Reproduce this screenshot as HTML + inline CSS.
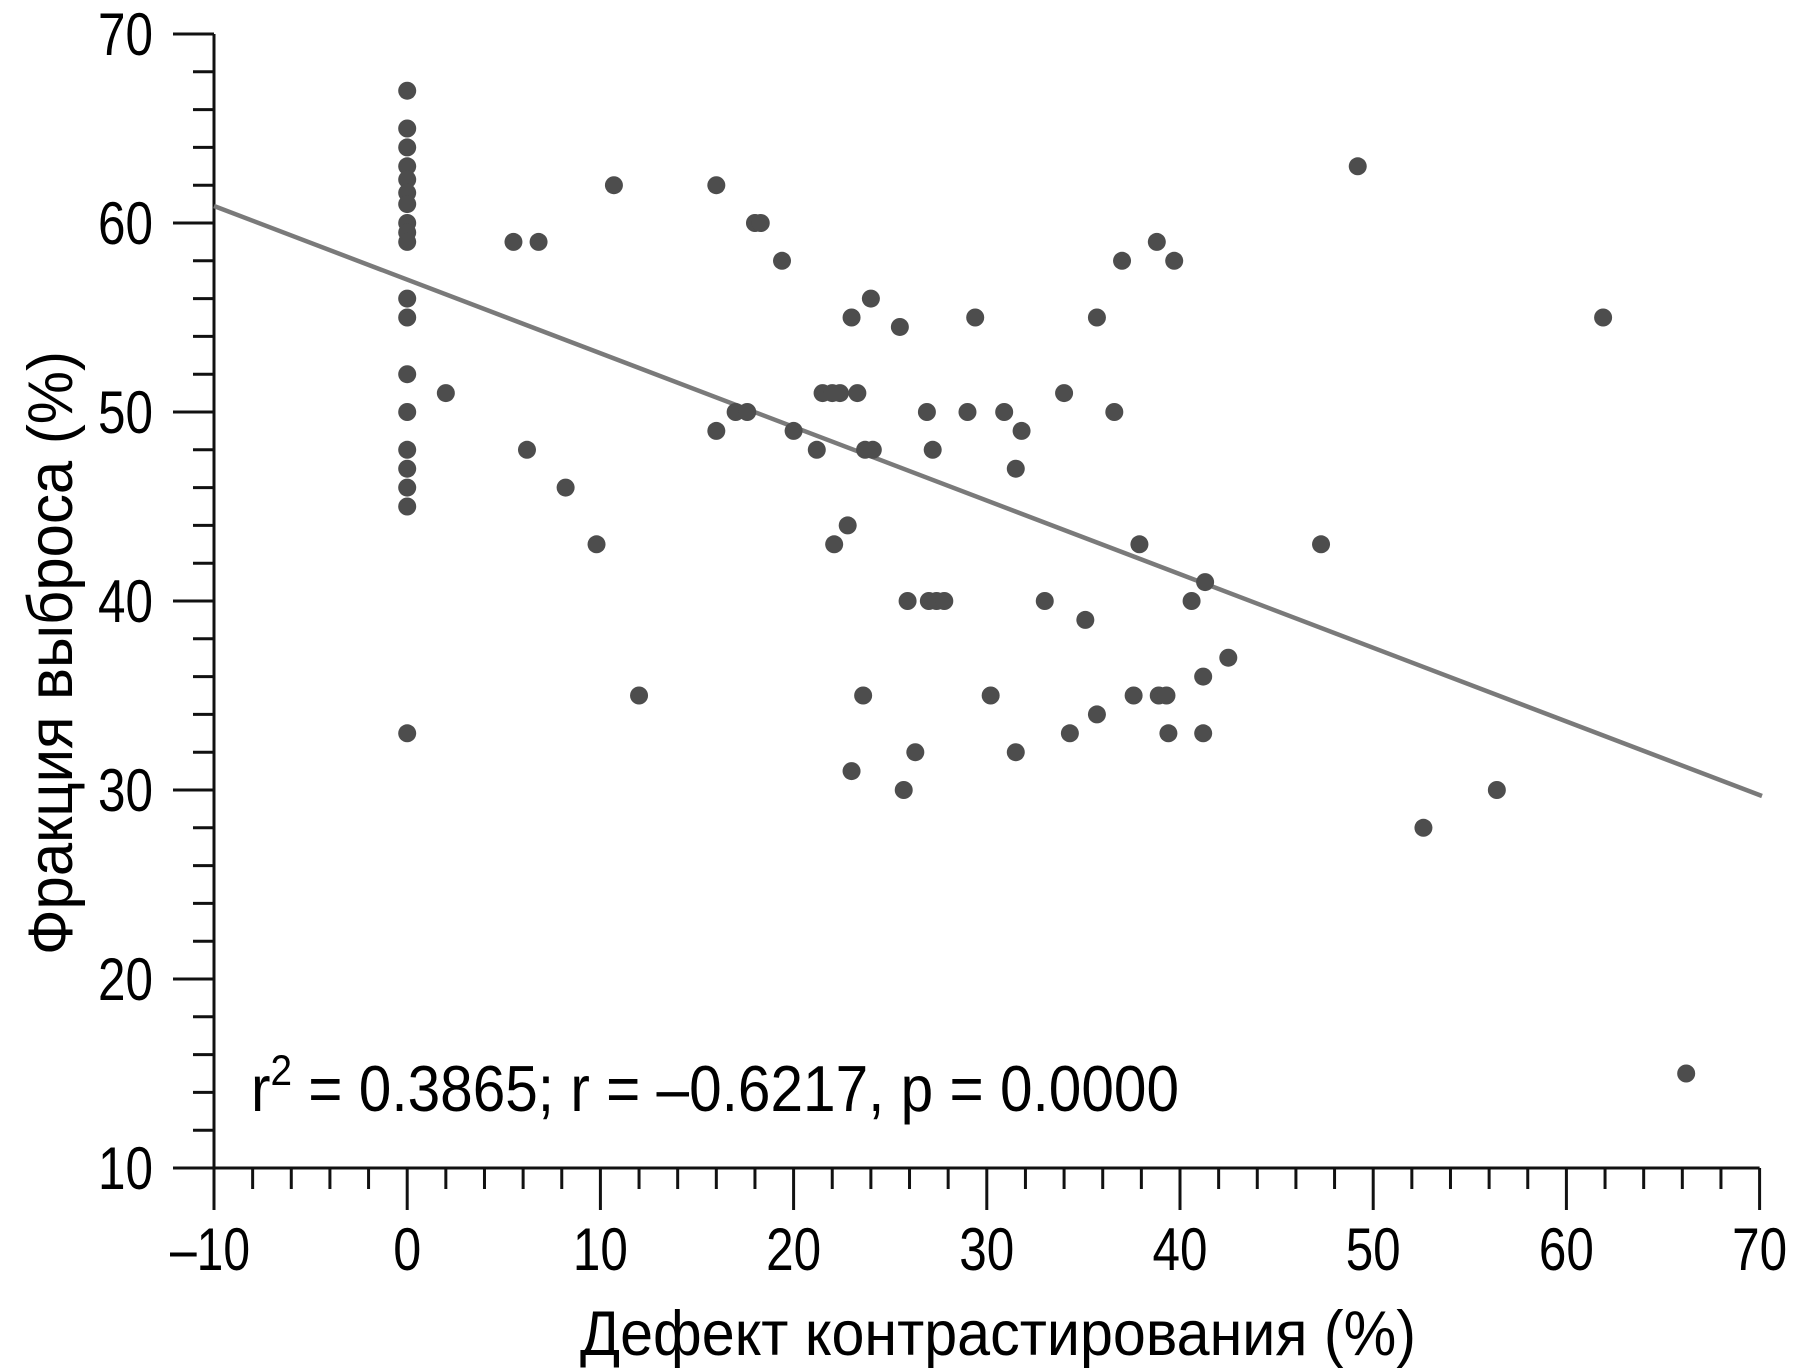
<!DOCTYPE html>
<html><head><meta charset="utf-8"><style>html,body{margin:0;padding:0;background:#fff}svg{display:block}</style></head>
<body>
<svg width="1800" height="1369" viewBox="0 0 1800 1369" xmlns="http://www.w3.org/2000/svg" font-family="'Liberation Sans', sans-serif">
<g id="axes" stroke="#111" stroke-width="3" fill="none"></g>
<g id="lbl" font-size="60" fill="#000"></g>
<line x1="214" y1="206" x2="1762" y2="796" stroke="#7a7a7a" stroke-width="4.5"/>
<g id="pts" fill="#4d4d4d"></g>
<text x="251" y="1111" font-size="65" fill="#000" textLength="928" lengthAdjust="spacingAndGlyphs">r<tspan dy="-26" font-size="43">2</tspan><tspan dy="26"> = 0.3865; r = –0.6217, p = 0.0000</tspan></text>
<text x="998" y="1355" font-size="63" text-anchor="middle" textLength="836" lengthAdjust="spacingAndGlyphs">Дефект контрастирования (%)</text>
<text transform="translate(72,653) rotate(-90)" font-size="63" text-anchor="middle" textLength="604" lengthAdjust="spacingAndGlyphs">Фракция выброса (%)</text>
<script>
const ns="http://www.w3.org/2000/svg";
const X=v=>214+(v+10)*19.32, Y=v=>1168-(v-10)*18.9;
const ax=document.getElementById('axes'),lb=document.getElementById('lbl'),pt=document.getElementById('pts');
function L(x1,y1,x2,y2){const l=document.createElementNS(ns,'line');l.setAttribute('x1',x1);l.setAttribute('y1',y1);l.setAttribute('x2',x2);l.setAttribute('y2',y2);ax.appendChild(l);}
function T(x,y,s,a,w){const t=document.createElementNS(ns,'text');t.setAttribute('x',x);t.setAttribute('y',y);t.setAttribute('text-anchor',a);t.setAttribute('textLength',w);t.setAttribute('lengthAdjust','spacingAndGlyphs');t.textContent=s;lb.appendChild(t);}
L(214,Y(70),214,1168);L(173,1168,X(70),1168);
for(let v=10;v<=70;v+=2){const maj=v%10==0;L(maj?173:193,Y(v),214,Y(v));if(maj)T(153,Y(v)+21,String(v),'end',55);}
for(let v=-10;v<=70;v+=2){const maj=v%10==0;L(X(v),1168,X(v),maj?1210:1189);if(maj)T(X(v)+(v<0?-4:0),1270,v<0?'–10':String(v),'middle',v<0?80:(v==0?28:55));}
const d=[[0,67],[0,65],[0,64],[0,63],[0,62.3],[0,61.6],[0,61],[0,60],[0,59.5],[0,59],[0,56],[0,55],[0,52],[0,50],[0,48],[0,47],[0,46],[0,45],[0,33],
[2,51],[5.5,59],[6.8,59],[6.2,48],[8.2,46],[9.8,43],[10.7,62],[12,35],[16,62],[16,49],[17,50],[17.6,50],[18,60],[18.3,60],[19.4,58],[20,49],[21.2,48],[21.5,51],[22,51],[22.4,51],[22.1,43],[22.8,44],[23,55],[23.3,51],[23.6,35],[23.7,48],[24,56],[24.1,48],[23,31],[25.5,54.5],[25.7,30],[25.9,40],[26.3,32],[26.9,50],[27,40],[27.2,48],[27.4,40],[27.8,40],[29,50],[29.4,55],[30.2,35],[30.9,50],[31.5,47],[31.5,32],[31.8,49],[33,40],[34,51],[34.3,33],[35.1,39],[35.7,55],[35.7,34],[36.6,50],[37,58],[37.6,35],[37.9,43],[38.8,59],[38.9,35],[39.3,35],[39.4,33],[39.7,58],[40.6,40],[41.2,36],[41.2,33],[41.3,41],[42.5,37],[47.3,43],[49.2,63],[52.6,28],[56.4,30],[61.9,55],[66.2,15]];
for(const [a,b] of d){const c=document.createElementNS(ns,'circle');c.setAttribute('cx',X(a));c.setAttribute('cy',Y(b));c.setAttribute('r',9);pt.appendChild(c);}
</script>
</svg>
</body></html>
